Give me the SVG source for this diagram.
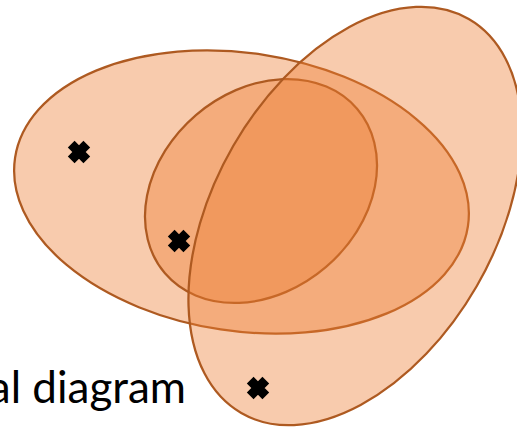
<svg xmlns="http://www.w3.org/2000/svg" width="517" height="427" viewBox="0 0 517 427">
  <defs>
    <style>
      .set { fill: #ED7D31; fill-opacity: 0.4; stroke: #AE5A21; stroke-width: 2.25; }
      .mark { stroke: #000; stroke-width: 9.5; stroke-linecap: butt; fill: none; }
      .label { font-family: Lato, "Open Sans", "Liberation Sans", sans-serif; font-size: 44px; fill: #000; }
    </style>
    <path id="cross" class="mark" d="M-7.8,-7.8 L7.8,7.8 M7.8,-7.8 L-7.8,7.8"/>
  </defs>
  <rect width="517" height="427" fill="#fff"/>
  <text class="label" x="186" y="403" text-anchor="end">al diagram</text>
  <g id="setA">
    <ellipse class="set" cx="0" cy="0" rx="229" ry="139" transform="translate(241.5,192) rotate(8.6)"/>
  </g>
  <g id="setB">
    <ellipse class="set" cx="0" cy="0" rx="126.5" ry="100" transform="translate(261,191) rotate(-40.6)"/>
  </g>
  <g id="setC">
    <ellipse class="set" cx="0" cy="0" rx="140.5" ry="227.5" transform="translate(355,216) rotate(30)"/>
  </g>
  <g id="marks">
    <use href="#cross" x="79" y="152"/>
    <use href="#cross" x="179" y="241"/>
    <use href="#cross" x="258" y="388"/>
  </g>
</svg>
